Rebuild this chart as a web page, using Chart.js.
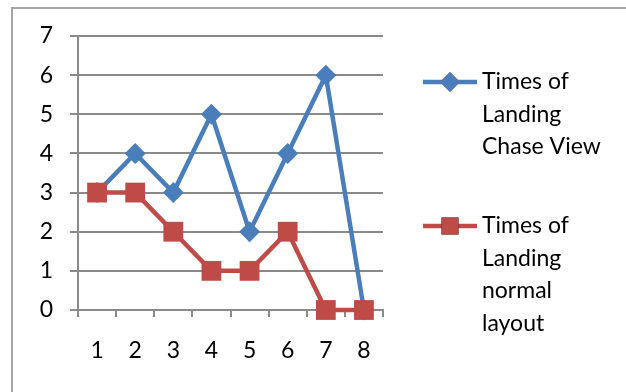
<!DOCTYPE html>
<html><head><meta charset="utf-8">
<script src="https://cdn.jsdelivr.net/npm/chart.js@4.4.0/dist/chart.umd.min.js"></script>
<style>html,body{margin:0;padding:0;background:#fff}canvas{display:block}</style>
</head><body>
<canvas id="c" width="626" height="392"></canvas>
<script>
// Landing counts per trial, two camera layouts
const categories = ['1', '2', '3', '4', '5', '6', '7', '8'];
const chaseView = [3, 4, 3, 5, 2, 4, 6, 0];
const normalLayout = [3, 3, 2, 1, 1, 2, 0, 0];
const yMin = 0, yMax = 7, yStep = 1;
const seriesNames = ['Times of Landing Chase View', 'Times of Landing normal layout'];
const legendLines = [['Times of', 'Landing', 'Chase View'], ['Times of', 'Landing', 'normal', 'layout']];

const FONT = 'Lato, "Open Sans", sans-serif';
const GRID = '#8a8a8a';
const BLUE = '#4a7ebb';
const RED = '#be4b48';

// Thin grey frame along the top and left edges
const framePlugin = {
  id: 'frame',
  beforeDraw(chart) {
    const ctx = chart.ctx;
    ctx.save();
    ctx.strokeStyle = '#a6a6a6';
    ctx.lineWidth = 2;
    ctx.beginPath();
    ctx.moveTo(12, 392);
    ctx.lineTo(12, 8);
    ctx.lineTo(626, 8);
    ctx.stroke();
    ctx.restore();
  }
};

// Legend on the right with wrapped series names
const sideLegend = {
  id: 'sideLegend',
  afterDraw(chart) {
    const ctx = chart.ctx;
    const x0 = chart.chartArea.right + 40;
    const tops = [82, 226];
    ctx.save();
    chart.data.datasets.forEach((ds, i) => {
      const y = tops[i];
      ctx.strokeStyle = ds.borderColor;
      ctx.lineWidth = ds.borderWidth;
      ctx.beginPath();
      ctx.moveTo(x0, y);
      ctx.lineTo(x0 + 54, y);
      ctx.stroke();
      Chart.helpers.drawPoint(ctx, {
        pointStyle: ds.pointStyle,
        radius: ds.legendRadius,
        rotation: 0,
        borderWidth: 0
      }, x0 + 27, y);
      ctx.fillStyle = ds.pointBackgroundColor;
      ctx.fill();
      ctx.fillStyle = '#000';
      ctx.font = '23px ' + FONT;
      ctx.textAlign = 'left';
      ctx.textBaseline = 'alphabetic';
      legendLines[i].forEach((t, j) => ctx.fillText(t, x0 + 59, y + 7 + j * 32.5));
    });
    ctx.restore();
  }
};

new Chart(document.getElementById('c'), {
  type: 'line',
  data: {
    labels: categories,
    datasets: [
      {
        label: seriesNames[0],
        data: chaseView,
        order: 2,
        clip: false,
        borderColor: BLUE,
        backgroundColor: BLUE,
        pointBackgroundColor: BLUE,
        pointBorderColor: BLUE,
        borderWidth: 4.5,
        pointStyle: 'rectRot',
        pointRadius: 10.5,
        pointBorderWidth: 0,
        legendRadius: 10,
        tension: 0
      },
      {
        label: seriesNames[1],
        data: normalLayout,
        order: 1,
        clip: false,
        borderColor: RED,
        backgroundColor: RED,
        pointBackgroundColor: RED,
        pointBorderColor: RED,
        borderWidth: 4.5,
        pointStyle: 'rect',
        pointRadius: 14,
        pointBorderWidth: 0,
        legendRadius: 12,
        tension: 0
      }
    ]
  },
  options: {
    responsive: false,
    animation: false,
    devicePixelRatio: 1,
    layout: { padding: { left: 0, right: 243, top: 36, bottom: 0 } },
    plugins: { legend: { display: false }, tooltip: { enabled: false } },
    scales: {
      x: {
        offset: true,
        grid: { drawOnChartArea: false, drawTicks: true, tickLength: 7, color: GRID, lineWidth: 2, offset: true },
        border: { display: true, color: GRID, width: 2 },
        ticks: { color: '#000', font: { family: FONT, size: 23 }, padding: 20 },
        afterFit(s) { s.height = 82; }
      },
      y: {
        min: yMin, max: yMax,
        grid: { drawTicks: true, tickLength: 8, color: GRID, lineWidth: 2 },
        border: { display: true, color: GRID, width: 2 },
        ticks: { stepSize: yStep, color: '#000', font: { family: FONT, size: 23 }, padding: 17 },
        afterFit(s) { s.width = 78; }
      }
    }
  },
  plugins: [framePlugin, sideLegend]
});
</script>
</body></html>
